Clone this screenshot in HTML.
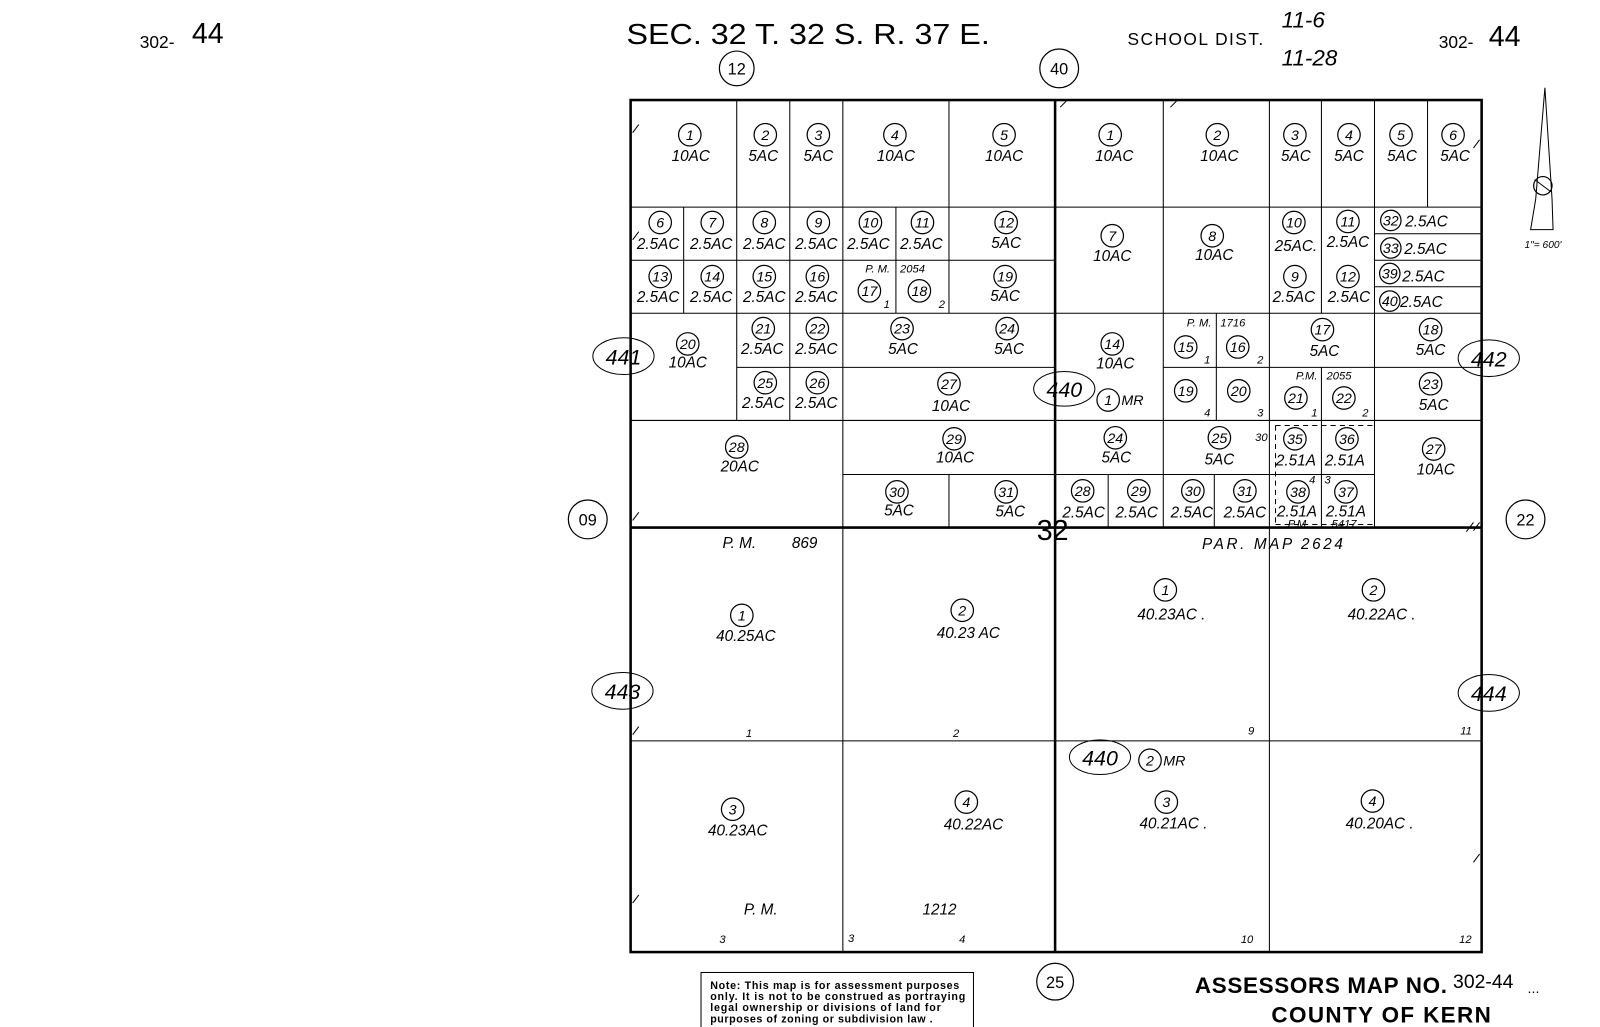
<!DOCTYPE html>
<html><head><meta charset="utf-8"><style>
html,body{margin:0;padding:0;background:#fff;}
svg{display:block}
text{font-family:"Liberation Sans",sans-serif;fill:#000}
.i{font-style:italic}
.n{font-size:14px;font-style:italic;text-anchor:middle}
.a{font-size:15px;font-style:italic;text-anchor:middle}
.s{font-size:11px;font-style:italic}
circle{fill:none;stroke:#000;stroke-width:1.2}
.l{stroke:#000;stroke-width:1;fill:none}
.L{stroke:#000;stroke-width:2.5;fill:none}
.d{stroke:#000;stroke-width:1;stroke-dasharray:5,4;fill:none}
</style></head><body>
<svg width="1600" height="1027" viewBox="0 0 1568 1006.4" xmlns="http://www.w3.org/2000/svg">
<!-- headers -->
<text x="137" y="47" font-size="17">302-</text><text x="188" y="42" font-size="28">44</text>
<text x="614" y="43" font-size="28" textLength="356" lengthAdjust="spacingAndGlyphs">SEC. 32  T. 32 S. R. 37 E.</text>
<text x="1105" y="44" font-size="17" textLength="133">SCHOOL  DIST.</text>
<text x="1256" y="27" font-size="22" class="i">11-6</text>
<text x="1256" y="64" font-size="22" class="i">11-28</text>
<text x="1410" y="47" font-size="17">302-</text><text x="1459" y="45" font-size="28">44</text>
<!-- north arrow -->
<path class="l" d="M1514 86 L1505 195 L1500 225 L1522 225 L1521 195 Z"/><circle cx="1512" cy="182" r="9"/><line class="l" x1="1504" y1="176" x2="1520" y2="188"/>
<text x="1494" y="243" font-size="10" class="i">1"= 600'</text>
<!-- outer circles -->
<circle cx="722" cy="67" r="17"/><text x="722" y="73" font-size="16" text-anchor="middle">12</text>
<circle cx="1038" cy="67" r="19"/><text x="1038" y="73" font-size="16" text-anchor="middle">40</text>
<circle cx="576" cy="509" r="19"/><text x="576" y="515" font-size="16" text-anchor="middle">09</text>
<circle cx="1495" cy="509" r="19"/><text x="1495" y="515" font-size="16" text-anchor="middle">22</text>
<circle cx="1034" cy="962" r="18"/><text x="1034" y="968" font-size="16" text-anchor="middle">25</text>
<ellipse cx="611" cy="349" rx="30" ry="18" class="l" stroke-width="1.5"/><text x="611" y="357" font-size="21" text-anchor="middle" class="i">441</text>
<ellipse cx="1459" cy="351" rx="30" ry="18" class="l" stroke-width="1.5"/><text x="1459" y="359" font-size="21" text-anchor="middle" class="i">442</text>
<ellipse cx="610" cy="677" rx="30" ry="18" class="l" stroke-width="1.5"/><text x="610" y="685" font-size="21" text-anchor="middle" class="i">443</text>
<ellipse cx="1459" cy="679" rx="30" ry="18" class="l" stroke-width="1.5"/><text x="1459" y="687" font-size="21" text-anchor="middle" class="i">444</text>
<ellipse cx="1043" cy="381" rx="30" ry="17" class="l" stroke-width="1.5"/><text x="1043" y="389" font-size="21" text-anchor="middle" class="i">440</text>
<ellipse cx="1078" cy="742" rx="30" ry="17" class="l" stroke-width="1.5"/><text x="1078" y="750" font-size="21" text-anchor="middle" class="i">440</text>
<circle cx="1086" cy="392" r="11"/><text class="n" x="1086" y="397">1</text><text x="1099" y="397" font-size="14" class="i">MR</text>
<circle cx="1127" cy="745" r="11"/><text class="n" x="1127" y="750">2</text><text x="1140" y="750" font-size="14" class="i">MR</text>
<text x="1016" y="529" font-size="28">32</text>
<!-- main frame -->
<rect class="L" x="618" y="98" width="834" height="835"/>
<line class="L" x1="1034" y1="98" x2="1034" y2="933"/>
<line class="L" x1="618" y1="517" x2="1452" y2="517"/>
<!-- TL lines -->
<path class="l" d="M618 203H1034M618 255H1034M618 307H1034M722 360H1034M618 412H1034M826 465H1034
M722 98V412M774 98V412M826 98V517M930 98V307M930 465V517M670 203V307M878 203V307"/>
<!-- TR lines -->
<path class="l" d="M1034 203H1452M1034 307H1452M1140 360H1452M1034 412H1452M1034 465H1347
M1140 98V517M1244 98V517M1295 98V255M1347 98V517M1399 98V203M1347 229H1452M1347 255H1452M1347 281H1452
M1295 255V307M1295 360V412M1192 307V412M1086 465V517M1190 465V517M1295 412V517"/>
<path class="d" d="M1250 417H1347M1250 417V514M1250 514H1347"/>
<!-- bottom lines -->
<path class="l" d="M618 726H1452M826 517V933M1244 517V933"/>
<!-- TL parcels -->
<g>
<circle cx="676" cy="132" r="11"/><text class="n" x="676" y="137">1</text><text class="a" x="677" y="158">10AC</text>
<circle cx="750" cy="132" r="11"/><text class="n" x="750" y="137">2</text><text class="a" x="748" y="158">5AC</text>
<circle cx="802" cy="132" r="11"/><text class="n" x="802" y="137">3</text><text class="a" x="802" y="158">5AC</text>
<circle cx="877" cy="132" r="11"/><text class="n" x="877" y="137">4</text><text class="a" x="878" y="158">10AC</text>
<circle cx="984" cy="132" r="11"/><text class="n" x="984" y="137">5</text><text class="a" x="984" y="158">10AC</text>
<circle cx="647" cy="218" r="11"/><text class="n" x="647" y="223">6</text><text class="a" x="645" y="244">2.5AC</text>
<circle cx="698" cy="218" r="11"/><text class="n" x="698" y="223">7</text><text class="a" x="697" y="244">2.5AC</text>
<circle cx="749" cy="218" r="11"/><text class="n" x="749" y="223">8</text><text class="a" x="749" y="244">2.5AC</text>
<circle cx="802" cy="218" r="11"/><text class="n" x="802" y="223">9</text><text class="a" x="800" y="244">2.5AC</text>
<circle cx="853" cy="218" r="11"/><text class="n" x="853" y="223">10</text><text class="a" x="851" y="244">2.5AC</text>
<circle cx="904" cy="218" r="11"/><text class="n" x="904" y="223">11</text><text class="a" x="903" y="244">2.5AC</text>
<circle cx="986" cy="218" r="11"/><text class="n" x="986" y="223">12</text><text class="a" x="986" y="243">5AC</text>
<circle cx="647" cy="271" r="11"/><text class="n" x="647" y="276">13</text><text class="a" x="645" y="296">2.5AC</text>
<circle cx="698" cy="271" r="11"/><text class="n" x="698" y="276">14</text><text class="a" x="697" y="296">2.5AC</text>
<circle cx="749" cy="271" r="11"/><text class="n" x="749" y="276">15</text><text class="a" x="749" y="296">2.5AC</text>
<circle cx="801" cy="271" r="11"/><text class="n" x="801" y="276">16</text><text class="a" x="800" y="296">2.5AC</text>
<text class="s" x="848" y="267" font-size="9">P. M.</text><text class="s" x="882" y="267" font-size="10">2054</text>
<circle cx="852" cy="285" r="11"/><text class="n" x="852" y="290">17</text><text class="s" x="866" y="302">1</text>
<circle cx="901" cy="285" r="11"/><text class="n" x="901" y="290">18</text><text class="s" x="920" y="302">2</text>
<circle cx="985" cy="271" r="11"/><text class="n" x="985" y="276">19</text><text class="a" x="985" y="295">5AC</text>
<circle cx="674" cy="337" r="11"/><text class="n" x="674" y="342">20</text><text class="a" x="674" y="360">10AC</text>
<circle cx="748" cy="322" r="11"/><text class="n" x="748" y="327">21</text><text class="a" x="747" y="347">2.5AC</text>
<circle cx="801" cy="322" r="11"/><text class="n" x="801" y="327">22</text><text class="a" x="800" y="347">2.5AC</text>
<circle cx="884" cy="322" r="11"/><text class="n" x="884" y="327">23</text><text class="a" x="885" y="347">5AC</text>
<circle cx="987" cy="322" r="11"/><text class="n" x="987" y="327">24</text><text class="a" x="989" y="347">5AC</text>
<circle cx="750" cy="375" r="11"/><text class="n" x="750" y="380">25</text><text class="a" x="748" y="400">2.5AC</text>
<circle cx="801" cy="375" r="11"/><text class="n" x="801" y="380">26</text><text class="a" x="800" y="400">2.5AC</text>
<circle cx="930" cy="376" r="11"/><text class="n" x="930" y="381">27</text><text class="a" x="932" y="403">10AC</text>
<circle cx="722" cy="438" r="11"/><text class="n" x="722" y="443">28</text><text class="a" x="725" y="462">20AC</text>
<circle cx="935" cy="430" r="11"/><text class="n" x="935" y="435">29</text><text class="a" x="936" y="453">10AC</text>
<circle cx="879" cy="482" r="11"/><text class="n" x="879" y="487">30</text><text class="a" x="881" y="505">5AC</text>
<circle cx="986" cy="482" r="11"/><text class="n" x="986" y="487">31</text><text class="a" x="990" y="506">5AC</text>
</g>
<!-- TR parcels -->
<g>
<circle cx="1088" cy="132" r="11"/><text class="n" x="1088" y="137">1</text><text class="a" x="1092" y="158">10AC</text>
<circle cx="1193" cy="132" r="11"/><text class="n" x="1193" y="137">2</text><text class="a" x="1195" y="158">10AC</text>
<circle cx="1269" cy="132" r="11"/><text class="n" x="1269" y="137">3</text><text class="a" x="1270" y="158">5AC</text>
<circle cx="1322" cy="132" r="11"/><text class="n" x="1322" y="137">4</text><text class="a" x="1322" y="158">5AC</text>
<circle cx="1373" cy="132" r="11"/><text class="n" x="1373" y="137">5</text><text class="a" x="1374" y="158">5AC</text>
<circle cx="1424" cy="132" r="11"/><text class="n" x="1424" y="137">6</text><text class="a" x="1426" y="158">5AC</text>
<circle cx="1090" cy="231" r="11"/><text class="n" x="1090" y="236">7</text><text class="a" x="1090" y="256">10AC</text>
<circle cx="1188" cy="231" r="11"/><text class="n" x="1188" y="236">8</text><text class="a" x="1190" y="255">10AC</text>
<circle cx="1268" cy="218" r="11"/><text class="n" x="1268" y="223">10</text><text class="a" x="1270" y="246">25AC.</text>
<circle cx="1321" cy="217" r="11"/><text class="n" x="1321" y="222">11</text><text class="a" x="1321" y="242">2.5AC</text>
<circle cx="1363" cy="216" r="10"/><text class="n" x="1363" y="221">32</text><text class="a" x="1398" y="222">2.5AC</text>
<circle cx="1363" cy="243" r="10"/><text class="n" x="1363" y="248">33</text><text class="a" x="1397" y="249">2.5AC</text>
<circle cx="1269" cy="271" r="11"/><text class="n" x="1269" y="276">9</text><text class="a" x="1268" y="296">2.5AC</text>
<circle cx="1321" cy="271" r="11"/><text class="n" x="1321" y="276">12</text><text class="a" x="1322" y="296">2.5AC</text>
<circle cx="1362" cy="268" r="10"/><text class="n" x="1362" y="273">39</text><text class="a" x="1395" y="276">2.5AC</text>
<circle cx="1362" cy="295" r="10"/><text class="n" x="1362" y="300">40</text><text class="a" x="1393" y="301">2.5AC</text>
<circle cx="1090" cy="337" r="11"/><text class="n" x="1090" y="342">14</text><text class="a" x="1093" y="361">10AC</text>
<text class="s" x="1163" y="320" font-size="9">P. M.</text><text class="s" x="1196" y="320" font-size="10">1716</text>
<circle cx="1162" cy="340" r="11"/><text class="n" x="1162" y="345">15</text><text class="s" x="1180" y="356">1</text>
<circle cx="1213" cy="340" r="11"/><text class="n" x="1213" y="345">16</text><text class="s" x="1232" y="356">2</text>
<circle cx="1296" cy="323" r="11"/><text class="n" x="1296" y="328">17</text><text class="a" x="1298" y="349">5AC</text>
<circle cx="1402" cy="323" r="11"/><text class="n" x="1402" y="328">18</text><text class="a" x="1402" y="348">5AC</text>
<circle cx="1162" cy="383" r="11"/><text class="n" x="1162" y="388">19</text><text class="s" x="1180" y="408">4</text>
<circle cx="1214" cy="383" r="11"/><text class="n" x="1214" y="388">20</text><text class="s" x="1232" y="408">3</text>
<text class="s" x="1270" y="372" font-size="9">P.M.</text><text class="s" x="1300" y="372" font-size="10">2055</text>
<circle cx="1270" cy="390" r="11"/><text class="n" x="1270" y="395">21</text><text class="s" x="1285" y="408">1</text>
<circle cx="1317" cy="390" r="11"/><text class="n" x="1317" y="395">22</text><text class="s" x="1335" y="408">2</text>
<circle cx="1402" cy="376" r="11"/><text class="n" x="1402" y="381">23</text><text class="a" x="1405" y="402">5AC</text>
<circle cx="1093" cy="429" r="11"/><text class="n" x="1093" y="434">24</text><text class="a" x="1094" y="453">5AC</text>
<circle cx="1195" cy="429" r="11"/><text class="n" x="1195" y="434">25</text><text class="a" x="1195" y="455">5AC</text>
<text class="s" x="1230" y="432" font-size="9">30</text>
<circle cx="1269" cy="430" r="11"/><text class="n" x="1269" y="435">35</text><text class="a" x="1270" y="456">2.51A</text>
<circle cx="1320" cy="430" r="11"/><text class="n" x="1320" y="435">36</text><text class="a" x="1318" y="456">2.51A</text>
<circle cx="1405" cy="440" r="11"/><text class="n" x="1405" y="445">27</text><text class="a" x="1407" y="465">10AC</text>
<text class="s" x="1283" y="474" font-size="9">4</text><text class="s" x="1298" y="474" font-size="9">3</text>
<circle cx="1061" cy="481" r="11"/><text class="n" x="1061" y="486">28</text><text class="a" x="1062" y="507">2.5AC</text>
<circle cx="1116" cy="481" r="11"/><text class="n" x="1116" y="486">29</text><text class="a" x="1114" y="507">2.5AC</text>
<circle cx="1169" cy="481" r="11"/><text class="n" x="1169" y="486">30</text><text class="a" x="1168" y="507">2.5AC</text>
<circle cx="1220" cy="481" r="11"/><text class="n" x="1220" y="486">31</text><text class="a" x="1220" y="507">2.5AC</text>
<circle cx="1272" cy="482" r="11"/><text class="n" x="1272" y="487">38</text><text class="a" x="1271" y="506">2.51A</text>
<circle cx="1319" cy="482" r="11"/><text class="n" x="1319" y="487">37</text><text class="a" x="1319" y="506">2.51A</text>
<text class="s" x="1262" y="517" font-size="10">P.M.</text><text class="s" x="1305" y="517" font-size="10">5417</text>
</g>
<!-- bottom parcels -->
<g>
<text x="708" y="537" font-size="15" class="i">P.  M.</text><text x="776" y="537" font-size="15" class="i">869</text>
<text x="1178" y="538" font-size="15" class="i" textLength="138">PAR.  MAP  2624</text>
<circle cx="727" cy="603" r="11"/><text class="n" x="727" y="608">1</text><text class="a" x="731" y="628">40.25AC</text>
<circle cx="943" cy="598" r="11"/><text class="n" x="943" y="603">2</text><text class="a" x="949" y="625">40.23 AC</text>
<circle cx="1142" cy="578" r="11"/><text class="n" x="1142" y="583">1</text><text class="a" x="1148" y="607">40.23AC .</text>
<circle cx="1346" cy="578" r="11"/><text class="n" x="1346" y="583">2</text><text class="a" x="1354" y="607">40.22AC .</text>
<text class="s" x="731" y="722" font-size="14">1</text><text class="s" x="934" y="722" font-size="14">2</text>
<text class="s" x="1223" y="720" font-size="14">9</text><text class="s" x="1431" y="720" font-size="14">11</text>
<circle cx="718" cy="793" r="11"/><text class="n" x="718" y="798">3</text><text class="a" x="723" y="819">40.23AC</text>
<circle cx="947" cy="786" r="11"/><text class="n" x="947" y="791">4</text><text class="a" x="954" y="813">40.22AC</text>
<circle cx="1143" cy="786" r="11"/><text class="n" x="1143" y="791">3</text><text class="a" x="1150" y="812">40.21AC .</text>
<circle cx="1345" cy="785" r="11"/><text class="n" x="1345" y="790">4</text><text class="a" x="1352" y="812">40.20AC .</text>
<text x="729" y="896" font-size="15" class="i">P.   M.</text><text x="904" y="896" font-size="15" class="i">1212</text>
<text class="s" x="705" y="924" font-size="14">3</text><text class="s" x="831" y="923" font-size="14">3</text><text class="s" x="940" y="924" font-size="14">4</text>
<text class="s" x="1216" y="924" font-size="14">10</text><text class="s" x="1430" y="924" font-size="14">12</text>
</g>
<!-- ticks -->
<path class="l" d="M620 130L626 122M620 235L626 227M620 510L626 502M620 720L626 712M620 885L626 877M1444 145L1450 137M1444 520L1450 512M1444 845L1450 837M1147 105L1153 99M1039 105L1045 99M1437 521L1444 512"/>
<!-- note box -->
<rect x="687" y="953" width="267" height="74" class="l" stroke-width="1.5"/>
<text x="696" y="969" font-size="10.5" font-weight="bold" textLength="244">Note: This map is for assessment purposes</text>
<text x="696" y="980" font-size="10.5" font-weight="bold" textLength="250">only. It is not to be construed as portraying</text>
<text x="696" y="991" font-size="10.5" font-weight="bold" textLength="226">legal ownership or divisions of land for</text>
<text x="696" y="1002" font-size="10.5" font-weight="bold" textLength="218">purposes of zoning or subdivision law .</text>
<text x="1171" y="973" font-size="22" font-weight="bold" textLength="247">ASSESSORS MAP NO.</text>
<text x="1424" y="968" font-size="19">302-44</text><text x="1497" y="973" font-size="14">...</text>
<text x="1246" y="1002" font-size="22" font-weight="bold" textLength="215">COUNTY OF KERN</text>
</svg>
</body></html>
